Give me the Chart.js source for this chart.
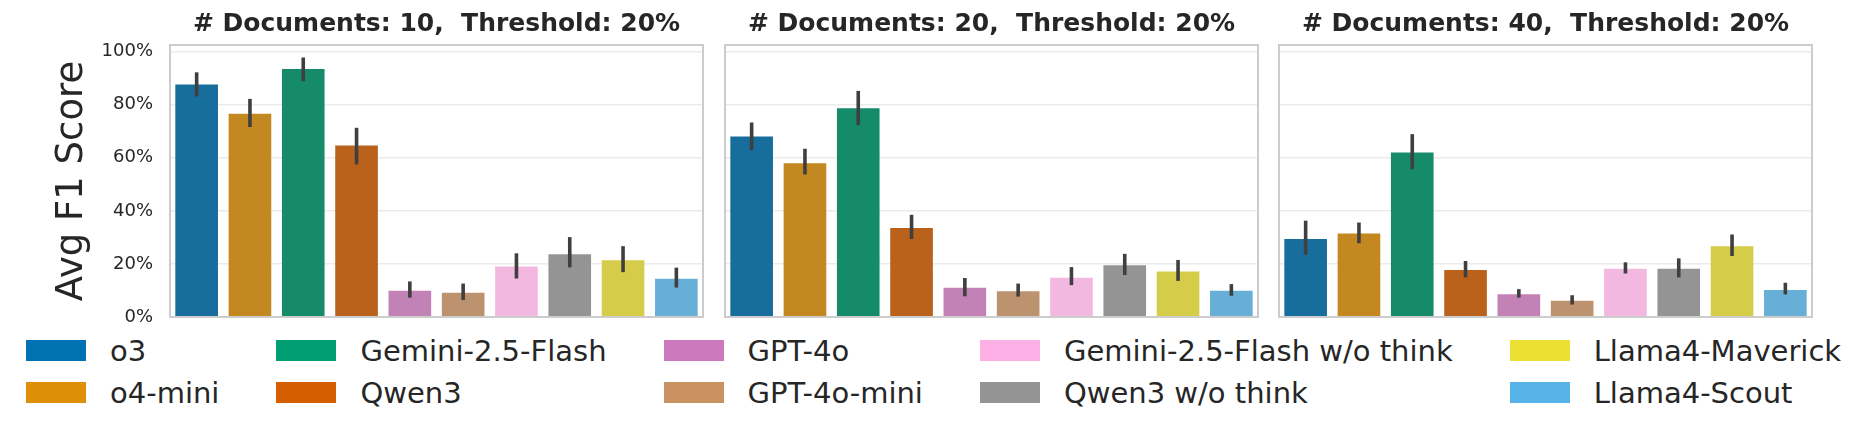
<!DOCTYPE html>
<html>
<head>
<meta charset="utf-8">
<script src="https://cdn.jsdelivr.net/npm/chart.js@4.4.0/dist/chart.umd.min.js"></script>
<style>
  body { margin: 0; background: #fff; width: 1869px; height: 437px; overflow: hidden; position: relative; font-family: "DejaVu Sans", sans-serif; }
  canvas { position: absolute; top: 0; }
  #legend { position: absolute; left: 26px; top: 330px; display: grid; grid-template-rows: 42px 42px; grid-auto-flow: column; column-gap: 57px; }
  .item { display: flex; align-items: flex-start; }
  .patch { width: 60px; height: 21px; margin-top: 10px; margin-right: 24px; }
  .item span { font-size: 29px; line-height: 42px; color: #262626; white-space: nowrap; }
</style>
</head>
<body>
<canvas id="c1" width="710" height="322" style="left:0"></canvas>
<canvas id="c2" width="547" height="322" style="left:718px"></canvas>
<canvas id="c3" width="547" height="322" style="left:1272px"></canvas>
<div id="legend"></div>
<script>
const models = ["o3", "o4-mini", "Gemini-2.5-Flash", "Qwen3", "GPT-4o", "GPT-4o-mini",
  "Gemini-2.5-Flash w/o think", "Qwen3 w/o think", "Llama4-Maverick", "Llama4-Scout"];
const palette = ["#0173b2", "#de8f05", "#029e73", "#d55e00", "#cc78bc", "#ca9161",
  "#fbafe4", "#949494", "#ece133", "#56b4e9"];
const yTicks = [0, 20, 40, 60, 80, 100];

// avg F1 (%) and error bar ends, one set per document count
const docs10 = [87.6, 76.6, 93.5, 64.6, 9.9, 9.1, 19.0, 23.6, 21.4, 14.4];
const docs10Lo = [83.1, 71.6, 88.8, 57.5, 7.3, 6.4, 14.5, 18.7, 16.9, 11.1];
const docs10Hi = [92.2, 82.2, 97.8, 71.3, 13.4, 12.6, 24.0, 30.1, 26.7, 18.6];

const docs20 = [68.0, 57.9, 78.7, 33.5, 11.0, 9.7, 14.8, 19.5, 17.1, 9.9];
const docs20Lo = [62.9, 53.7, 72.3, 29.4, 7.8, 7.7, 12.0, 15.8, 13.6, 8.0];
const docs20Hi = [73.3, 63.4, 85.2, 38.5, 14.7, 12.6, 18.8, 23.8, 21.5, 12.4];

const docs40 = [29.4, 31.5, 62.0, 17.7, 8.6, 6.1, 18.2, 18.2, 26.7, 10.2];
const docs40Lo = [23.5, 27.8, 55.7, 14.9, 7.3, 4.7, 16.4, 14.9, 23.0, 8.5];
const docs40Hi = [36.3, 35.6, 68.9, 21.1, 10.5, 8.2, 20.6, 22.1, 31.1, 12.9];

const FONT = "DejaVu Sans";

// seaborn draws bars at 75% saturation
function desaturate(hex, prop) {
  const r = parseInt(hex.slice(1, 3), 16) / 255;
  const g = parseInt(hex.slice(3, 5), 16) / 255;
  const b = parseInt(hex.slice(5, 7), 16) / 255;
  const max = Math.max(r, g, b), min = Math.min(r, g, b);
  const l = (max + min) / 2;
  let h = 0, s = 0;
  if (max !== min) {
    const d = max - min;
    s = l > 0.5 ? d / (2 - max - min) : d / (max + min);
    if (max === r) h = (g - b) / d + (g < b ? 6 : 0);
    else if (max === g) h = (b - r) / d + 2;
    else h = (r - g) / d + 4;
    h /= 6;
  }
  s *= prop;
  const hue = (p, q, t) => {
    if (t < 0) t += 1;
    if (t > 1) t -= 1;
    if (t < 1 / 6) return p + (q - p) * 6 * t;
    if (t < 1 / 2) return q;
    if (t < 2 / 3) return p + (q - p) * (2 / 3 - t) * 6;
    return p;
  };
  const q = l < 0.5 ? l * (1 + s) : l + s - l * s;
  const p = 2 * l - q;
  const c = [hue(p, q, h + 1 / 3), hue(p, q, h), hue(p, q, h - 1 / 3)].map(v => Math.round(v * 255));
  return `rgb(${c[0]},${c[1]},${c[2]})`;
}

const errorBars = {
  id: "errorBars",
  afterDatasetsDraw(chart) {
    const ds = chart.data.datasets[0];
    const y = chart.scales.y;
    const ctx = chart.ctx;
    ctx.save();
    ctx.strokeStyle = "#3f3f3f";
    ctx.lineWidth = 3.6;
    chart.getDatasetMeta(0).data.forEach((bar, i) => {
      ctx.beginPath();
      ctx.moveTo(bar.x, y.getPixelForValue(ds.errLo[i]));
      ctx.lineTo(bar.x, y.getPixelForValue(ds.errHi[i]));
      ctx.stroke();
    });
    ctx.restore();
  }
};

const frame = {
  id: "frame",
  afterDraw(chart) {
    const a = chart.chartArea;
    const ctx = chart.ctx;
    ctx.save();
    ctx.strokeStyle = "#cccccc";
    ctx.lineWidth = 2;
    ctx.strokeRect(a.left, a.top, a.right - a.left, a.bottom - a.top);
    ctx.restore();
  }
};

function makePanel(id, nDocs, values, lo, hi, first) {
  return new Chart(document.getElementById(id), {
    type: "bar",
    data: {
      labels: models,
      datasets: [{
        data: values,
        errLo: lo,
        errHi: hi,
        backgroundColor: palette.map(c => desaturate(c, 0.75)),
        borderWidth: 0,
        categoryPercentage: 0.8,
        barPercentage: 1.0
      }]
    },
    options: {
      responsive: false,
      animation: false,
      devicePixelRatio: 1,
      layout: { padding: { left: 0, right: 7, top: 0, bottom: 5 } },
      plugins: {
        legend: { display: false },
        tooltip: { enabled: false },
        title: {
          display: true,
          fullSize: false,
          text: `# Documents: ${nDocs},  Threshold: 20%`,
          color: "#262626",
          font: { family: FONT, size: 25, weight: "bold" },
          padding: { top: 9.5, bottom: 5.5 }
        }
      },
      scales: {
        x: { display: false },
        y: {
          min: 0,
          max: 102.5,
          afterFit: s => {
            s.width = first ? 170 : 7;
            s.paddingTop = 0;
            s.paddingBottom = 0;
          },
          afterBuildTicks: s => { s.ticks = yTicks.map(v => ({ value: v })); },
          grid: { color: "#ebebeb", lineWidth: 1.5, drawTicks: false },
          border: { display: false },
          ticks: {
            display: first,
            padding: 17,
            color: "#262626",
            font: { family: FONT, size: 18 },
            callback: v => v + "%"
          },
          title: {
            display: first,
            text: "Avg F1 Score",
            color: "#262626",
            font: { family: FONT, size: 37 },
            padding: { top: 50, bottom: 0 }
          }
        }
      }
    },
    plugins: [errorBars, frame]
  });
}

makePanel("c1", 10, docs10, docs10Lo, docs10Hi, true);
makePanel("c2", 20, docs20, docs20Lo, docs20Hi, false);
makePanel("c3", 40, docs40, docs40Lo, docs40Hi, false);

const legend = document.getElementById("legend");
legend.innerHTML = models.map((m, i) =>
  `<div class="item"><div class="patch" style="background:${palette[i]}"></div><span>${m}</span></div>`
).join("");
</script>
</body>
</html>
